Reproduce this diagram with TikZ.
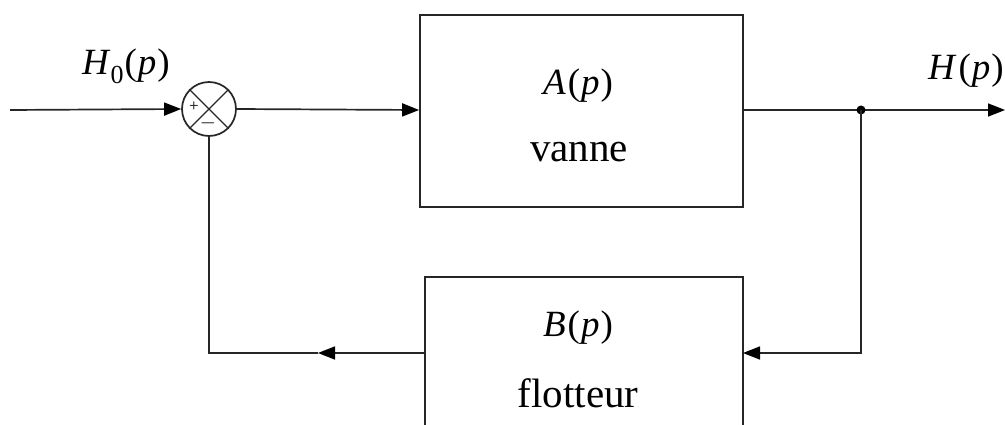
\documentclass[tikz,border=0pt]{standalone}
\usepackage{fontspec}
\setmainfont{Liberation Serif}
\usetikzlibrary{arrows.meta}
\newcommand{\tf}[2]{\textit{#1}\hspace{2pt}(\hspace{1pt}\textit{#2}\hspace{1pt})}
\begin{document}
\begin{tikzpicture}[x=1pt,y=-1pt,
  wire/.style={line width=1.7pt,draw=black!85},
  arr/.style={wire,-{Triangle[length=17pt,width=13pt,color=black]}},
  blockbox/.style={draw=black!85,line width=1.7pt,inner sep=0pt},
  lbl/.style={font=\fontsize{41}{46}\selectfont,inner sep=0pt,anchor=base},
  mlbl/.style={font=\fontsize{37}{42}\selectfont,inner sep=0pt,anchor=base}]
\useasboundingbox (0,0) rectangle (1005,425);
% blocks
\node[blockbox,minimum width=323pt,minimum height=192pt] (A) at (581.5,111) {};
\draw[blockbox] (425,440) -- (425,277) -- (743,277) -- (743,440);
\coordinate (Bin) at (743,353);
\coordinate (Bout) at (425,353);
\node[mlbl] (At) at (578,95) {\tf{A}{p}};
\node[lbl] (Av) at (579,162) {vanne};
\node[mlbl] (Bt) at (578,336) {\tf{B}{p}};
\node[lbl] (Bf) at (578,407) {flotteur};
% summer
\node[draw=black!85,line width=1.7pt,circle,minimum size=54pt,inner sep=0pt] (S) at (209,109) {};
\draw[line width=1.4pt,black!85] (S.45) -- (S.225) (S.135) -- (S.315);
\node[inner sep=0pt,font=\fontsize{17}{17}\selectfont] (plus) at (194,107) {+};
\node[inner sep=0pt,font=\fontsize{20}{20}\selectfont\bfseries] (minus) at (208,123) {$-$};
% input
\coordinate (in) at (10,110);
\draw[arr] (in) -- (S.west);
\node[mlbl,anchor=base west] (H0) at (82,75) {\textit{H}\raisebox{-0.22em}{\fontsize{26}{26}\selectfont 0}\hspace{1pt}(\hspace{1pt}\textit{p}\hspace{1pt})};
% forward
\draw[arr] (S.east) -- (A.west |- 0,110);
\coordinate (dot) at (861,110);
\coordinate (out) at (1005,110);
\draw[wire] (A.east |- 0,110) -- (dot);
\draw[arr] (dot) -- (out);
\fill[black] (dot) circle (4.5pt);
\node[mlbl,anchor=base west] (H) at (928,80) {\tf{H}{p}};
% feedback
\draw[arr] (dot) |- (Bin);
\coordinate (mid) at (318,353);
\draw[arr] (Bout) -- (mid);
\draw[wire] (mid) -| (S.south);
\end{tikzpicture}
\end{document}
